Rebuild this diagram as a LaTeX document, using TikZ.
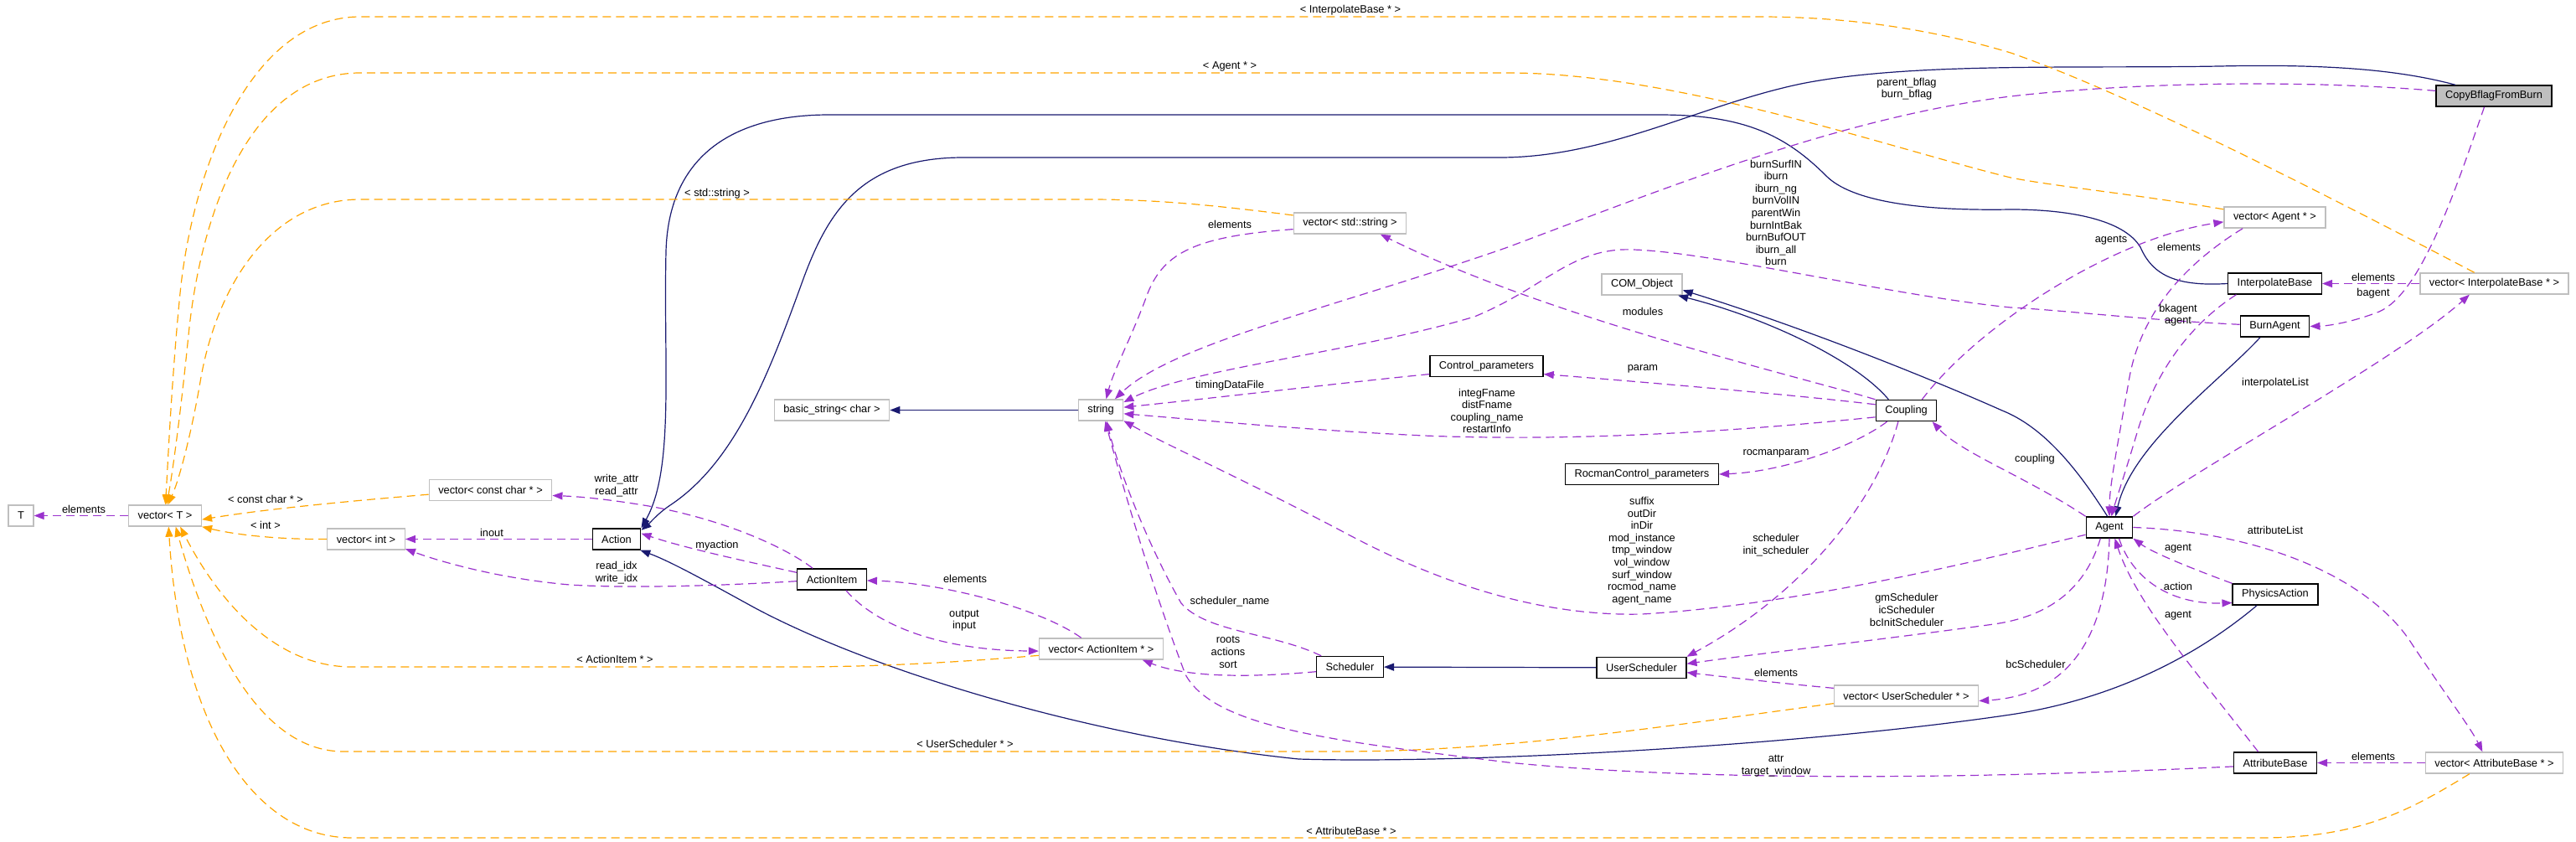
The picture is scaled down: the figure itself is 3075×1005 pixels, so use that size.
\documentclass[tikz,border=0pt]{standalone}
\usepackage{fontspec}
\setmainfont{Liberation Sans}
\usepackage{tikz}
\usetikzlibrary{arrows.meta}
\definecolor{inheritblue}{RGB}{25,25,112}
\definecolor{usepurple}{RGB}{154,50,205}
\definecolor{tmplorange}{RGB}{255,165,0}
\definecolor{extgray}{RGB}{191,191,191}
\newcommand{\graphfont}{\fontsize{6.4}{7.3}\selectfont}
\tikzset{
  classbox/.style={
    draw,line width=0.7pt,minimum height=12.5pt,inner xsep=5.5pt,
    inner ysep=0pt,font=\graphfont
  },
  docbox/.style={classbox,draw=black},
  extbox/.style={classbox,draw=extgray},
  focusbox/.style={classbox,draw=black,fill=extgray},
  edgelabel/.style={font=\graphfont,align=center,inner sep=0pt},
  inheritline/.style={draw=inheritblue,line width=0.6pt,-{Triangle[length=6pt,width=4.5pt]}},
  useline/.style={draw=usepurple,line width=0.6pt,dash pattern=on 5pt off 3pt,
    -{Triangle[length=6pt,width=4.5pt]}},
  templateline/.style={draw=tmplorange,line width=0.6pt,dash pattern=on 5pt off 3pt,
    -{Triangle[length=6pt,width=4.5pt]}}
}

\begin{document}
\begin{tikzpicture}[x=0.5pt,y=-0.5pt]
  \useasboundingbox (0,0) rectangle (3075,1005);

  \node[extbox] (T) at (25,615.5) {T};
  \node[extbox] (vecT) at (197,615.5) {vector< T >};
  \node[extbox] (vecCC) at (585.5,585) {vector< const char * >};
  \node[extbox] (vecInt) at (437,643.5) {vector< int >};
  \node[docbox] (Action) at (736,643.5) {Action};
  \node[docbox] (ActionItem) at (993,691.5) {ActionItem};
  \node[extbox] (vecAI) at (1314.5,774.5) {vector< ActionItem * >};
  \node[docbox] (Scheduler) at (1611.5,796) {Scheduler};
  \node[docbox] (UserScheduler) at (1959.5,797) {UserScheduler};
  \node[extbox] (vecUS) at (2275.5,830.5) {vector< UserScheduler * >};
  \node[extbox] (basicStr) at (993,489.5) {basic\_string< char >};
  \node[extbox] (string) at (1314,489.5) {string};
  \node[extbox] (vecStr) at (1611.5,266.5) {vector< std::string >};
  \node[extbox] (COMObj) at (1960,339.5) {COM\_Object};
  \node[docbox] (ctrlParam) at (1774.5,437) {Control\_parameters};
  \node[docbox] (rocmanParam) at (1960,566) {RocmanControl\_parameters};
  \node[docbox] (Coupling) at (2275.5,490) {Coupling};
  \node[extbox] (vecAgent) at (2715.5,259.5) {vector< Agent * >};
  \node[docbox] (InterpBase) at (2715.5,338.5) {InterpolateBase};
  \node[extbox] (vecIB) at (2977.5,338.5) {vector< InterpolateBase * >};
  \node[docbox] (BurnAgent) at (2715.5,389.5) {BurnAgent};
  \node[docbox] (Agent) at (2518,629.5) {Agent};
  \node[docbox] (PhysAction) at (2716,709.5) {PhysicsAction};
  \node[docbox] (AttrBase) at (2716,910.5) {AttributeBase};
  \node[extbox] (vecAB) at (2977.5,910.5) {vector< AttributeBase * >};
  \node[focusbox] (CopyBflag) at (2977,114.5) {CopyBflagFromBurn};

  \draw[inheritline] (string) -- (basicStr);
  \draw[inheritline] (UserScheduler) -- (Scheduler);
  \draw[inheritline] (BurnAgent.217) .. controls (2650,455) and (2545,530) .. (Agent.61);
  \draw[inheritline] (Coupling.148) .. controls (2215,430) and (2110,380) .. (COMObj.-17);
  \draw[inheritline] (Agent.100) .. controls (2480,560) and (2440,510) .. (2390,490)
    .. controls (2300,450) and (2150,390) .. (COMObj.-8);
  \draw[inheritline] (InterpBase.west) .. controls (2600,342) and (2570,330) .. (2555,295)
    .. controls (2535,262) and (2470,250) .. (2400,250)
    .. controls (2290,252) and (2210,240) .. (2180,210)
    .. controls (2130,160) and (2080,137) .. (1980,137) -- (990,137)
    .. controls (870,137) and (798,190) .. (795,300)
    .. controls (792,440) and (805,560) .. (Action.north east);
  \draw[inheritline] (CopyBflag.164) .. controls (2870,85) and (2790,76) .. (2650,79)
    .. controls (2480,82) and (2280,74) .. (2150,100)
    .. controls (2030,125) and (1920,188) .. (1790,188) -- (1150,188)
    .. controls (1030,188) and (990,250) .. (960,330)
    .. controls (920,440) and (880,550) .. (800,603)
    .. controls (785,613) and (775,625) .. (Action.20);
  \draw[inheritline] (PhysAction.211) .. controls (2620,785) and (2520,835) .. (2400,853)
    .. controls (2150,890) and (1750,912) .. (1550,906)
    .. controls (1300,880) and (1040,800) .. (900,725)
    .. controls (840,692) and (800,670) .. (Action.-25);

  \draw[templateline] (vecCC.184) .. controls (430,597) and (320,607) .. (vecT.-6);
  \draw[templateline] (vecInt.west) .. controls (330,644) and (280,638) .. (vecT.south east);
  \draw[templateline] (vecAI.186) .. controls (1150,790) and (1050,796) .. (950,796) -- (420,796)
    .. controls (330,796) and (262,720) .. (vecT.-36);
  \draw[templateline] (vecUS.186) .. controls (2000,865) and (1800,897) .. (1600,897) -- (410,897)
    .. controls (320,897) and (255,790) .. (vecT.-46);
  \draw[templateline] (vecAB.204) .. controls (2880,965) and (2820,1000) .. (2700,1000) -- (420,1000)
    .. controls (300,1000) and (215,860) .. (vecT.-72);
  \draw[templateline] (vecStr.172) .. controls (1450,245) and (1380,238) .. (1300,238) -- (430,238)
    .. controls (330,238) and (262,330) .. (240,450)
    .. controls (230,510) and (215,570) .. (vecT.75);
  \draw[templateline] (vecAgent.171) .. controls (2550,232) and (2450,222) .. (2400,212)
    .. controls (2250,175) and (2000,87) .. (1800,87) -- (430,87)
    .. controls (300,87) and (240,250) .. (225,400)
    .. controls (215,500) and (205,570) .. (vecT.82);
  \draw[templateline] (vecIB.151) .. controls (2800,245) and (2550,115) .. (2400,63)
    .. controls (2300,33) and (2200,20) .. (2100,20) -- (430,20)
    .. controls (300,20) and (230,200) .. (215,350)
    .. controls (205,450) and (200,560) .. (vecT.88);

  \draw[useline] (vecT) -- (T);
  \draw[useline] (ActionItem.150) .. controls (940,655) and (870,622) .. (780,605)
    .. controls (740,598) and (700,593) .. (vecCC.-5);
  \draw[useline] (Action) -- (vecInt);
  \draw[useline] (ActionItem.183) .. controls (880,698) and (760,703) .. (680,698)
    .. controls (600,691) and (530,672) .. (vecInt.-14);
  \draw[useline] (ActionItem.169) .. controls (900,672) and (820,655) .. (Action.13);
  \draw[useline] (vecAI.151) .. controls (1240,725) and (1120,695) .. (ActionItem.-2);
  \draw[useline] (ActionItem.-38) .. controls (1040,740) and (1110,776) .. (vecAI.182);
  \draw[useline] (Scheduler.188) .. controls (1500,808) and (1420,810) .. (vecAI.-15);
  \draw[useline] (Scheduler.159) .. controls (1520,755) and (1440,755) .. (1410,720)
    .. controls (1370,650) and (1335,560) .. (string.-62);
  \draw[useline] (AttrBase.185) .. controls (2400,928) and (2050,935) .. (1800,910)
    .. controls (1600,885) and (1450,870) .. (1415,805)
    .. controls (1375,700) and (1340,580) .. (string.-68);
  \draw[useline] (Agent.197) .. controls (2380,665) and (2150,722) .. (1960,733)
    .. controls (1800,737) and (1660,665) .. (1600,633)
    .. controls (1480,570) and (1390,530) .. (string.-25);
  \draw[useline] (BurnAgent.177) .. controls (2560,382) and (2460,370) .. (2400,367)
    .. controls (2250,352) and (2020,295) .. (1935,298)
    .. controls (1870,302) and (1840,345) .. (1760,378)
    .. controls (1620,420) and (1420,440) .. (string.19);
  \draw[useline] (CopyBflag.175) .. controls (2750,95) and (2550,98) .. (2400,115)
    .. controls (2200,140) and (2000,220) .. (1800,295)
    .. controls (1600,365) and (1400,410) .. (string.38);
  \draw[useline] (vecStr.186) .. controls (1430,282) and (1390,300) .. (1370,350)
    .. controls (1350,405) and (1330,440) .. (string.64);
  \draw[useline] (Coupling.north west) .. controls (2150,450) and (1850,380) .. (vecStr.-20);
  \draw[useline] (Coupling.169) .. controls (2150,472) and (1950,455) .. (ctrlParam.-8);
  \draw[useline] (ctrlParam.188) .. controls (1620,455) and (1450,475) .. (string.7);
  \draw[useline] (Coupling.192) .. controls (2100,512) and (1900,528) .. (1700,520)
    .. controls (1550,513) and (1420,500) .. (string.-9);
  \draw[useline] (Coupling.210) .. controls (2215,532) and (2130,563) .. (rocmanParam.east);
  \draw[useline] (Coupling.234) .. controls (2240,600) and (2150,710) .. (UserScheduler.north east);
  \draw[useline] (Agent.231) .. controls (2490,700) and (2450,735) .. (2380,745)
    .. controls (2250,763) and (2100,780) .. (UserScheduler.5);
  \draw[useline] (vecUS.174) .. controls (2120,815) and (2060,808) .. (UserScheduler.-6);
  \draw[useline] (Agent.south) .. controls (2515,760) and (2470,830) .. (vecUS.-4);
  \draw[useline] (AttrBase.147) .. controls (2620,800) and (2550,720) .. (Agent.-64);
  \draw[useline] (PhysAction.north west) .. controls (2620,680) and (2570,660) .. (Agent.south east);
  \draw[useline] (Agent.-49) .. controls (2545,690) and (2590,722) .. (PhysAction.191);
  \draw[useline] (Agent.east) .. controls (2700,635) and (2830,690) .. (2880,770)
    .. controls (2920,830) and (2950,870) .. (vecAB.137);
  \draw[useline] (vecAB) -- (AttrBase);
  \draw[useline] (Agent.north east) .. controls (2620,560) and (2860,430) .. (vecIB.204);
  \draw[useline] (vecIB) -- (InterpBase);
  \draw[useline] (CopyBflag.229) .. controls (2930,230) and (2890,350) .. (2840,372)
    .. controls (2810,384) and (2780,389) .. (BurnAgent.east);
  \draw[useline] (InterpBase.196) .. controls (2610,390) and (2570,450) .. (2550,520)
    .. controls (2535,570) and (2525,600) .. (Agent.80);
  \draw[useline] (vecAgent.199) .. controls (2600,320) and (2555,380) .. (2542,450)
    .. controls (2528,530) and (2518,580) .. (Agent.north);
  \draw[useline] (Coupling.35) .. controls (2360,390) and (2520,285) .. (vecAgent.185);
  \draw[useline] (Agent.north west) .. controls (2420,570) and (2340,540) .. (Coupling.-23);

  \node[edgelabel] (lbTelems) at (100,608) {elements};
  \node[edgelabel] (lbConstChar) at (317,596) {< const char * >};
  \node[edgelabel] (lbInt) at (317,627) {< int >};
  \node[edgelabel] (lbWriteAttr) at (736,579.5) {write\_attr\\read\_attr};
  \node[edgelabel] (lbInout) at (587,636) {inout};
  \node[edgelabel] (lbReadIdx) at (736,683.5) {read\_idx\\write\_idx};
  \node[edgelabel] (lbMyaction) at (856,651) {myaction};
  \node[edgelabel] (lbAIelems) at (1152,691) {elements};
  \node[edgelabel] (lbOutput) at (1151,740.5) {output\\input};
  \node[edgelabel] (lbRoots) at (1466,778.5) {roots\\actions\\sort};
  \node[edgelabel] (lbSchedName) at (1468,718) {scheduler\_name};
  \node[edgelabel] (lbAIptr) at (734,787) {< ActionItem * >};
  \node[edgelabel] (lbUSptr) at (1152,888) {< UserScheduler * >};
  \node[edgelabel] (lbABptr) at (1613,992) {< AttributeBase * >};
  \node[edgelabel] (lbStdStr) at (856,231) {< std::string >};
  \node[edgelabel] (lbAgentPtr) at (1468,79) {< Agent * >};
  \node[edgelabel] (lbIBptr) at (1612,12) {< InterpolateBase * >};
  \node[edgelabel] (lbStrElems) at (1468,268) {elements};
  \node[edgelabel] (lbTiming) at (1468,460) {timingDataFile};
  \node[edgelabel] (lbBflag) at (2276,106) {parent\_bflag\\burn\_bflag};
  \node[edgelabel] (lbBurn) at (2120,254) {burnSurfIN\\iburn\\iburn\_ng\\burnVolIN\\parentWin\\burnIntBak\\burnBufOUT\\iburn\_all\\burn};
  \node[edgelabel] (lbModules) at (1961,372) {modules};
  \node[edgelabel] (lbParam) at (1961,440) {param};
  \node[edgelabel] (lbIntegF) at (1775,490.5) {integFname\\distFname\\coupling\_name\\restartInfo};
  \node[edgelabel] (lbRocman) at (2120,541) {rocmanparam};
  \node[edgelabel] (lbSched) at (2120,650.5) {scheduler\\init\_scheduler};
  \node[edgelabel] (lbSuffix) at (1960,657.5) {suffix\\outDir\\inDir\\mod\_instance\\tmp\_window\\vol\_window\\surf\_window\\rocmod\_name\\agent\_name};
  \node[edgelabel] (lbGm) at (2276,728) {gmScheduler\\icScheduler\\bcInitScheduler};
  \node[edgelabel] (lbUSelems) at (2120,803) {elements};
  \node[edgelabel] (lbBc) at (2430,793) {bcScheduler};
  \node[edgelabel] (lbAttr) at (2120,914) {attr\\target\_window};
  \node[edgelabel] (lbAgents) at (2520,287) {agents};
  \node[edgelabel] (lbAgentElems) at (2601,295) {elements};
  \node[edgelabel] (lbBk) at (2600,376) {bkagent\\agent};
  \node[edgelabel] (lbCoupling) at (2429,548) {coupling};
  \node[edgelabel] (lbInterpList) at (2716,457) {interpolateList};
  \node[edgelabel] (lbAttrList) at (2716,633) {attributeList};
  \node[edgelabel] (lbPhysAgent) at (2600,655) {agent};
  \node[edgelabel] (lbAction) at (2600,700) {action};
  \node[edgelabel] (lbAttrAgent) at (2600,735) {agent};
  \node[edgelabel] (lbABelems) at (2833,903) {elements};
  \node[edgelabel] (lbIBelems) at (2833,331) {elements};
  \node[edgelabel] (lbBagent) at (2833,350) {bagent};
\end{tikzpicture}
\end{document}
